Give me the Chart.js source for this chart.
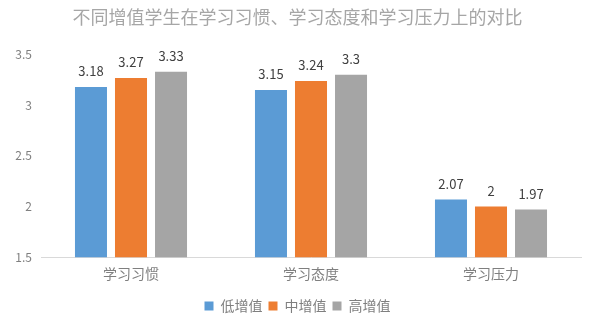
<!DOCTYPE html>
<html>
<head>
<meta charset="utf-8">
<script src="https://cdn.jsdelivr.net/npm/chart.js@4/dist/chart.umd.min.js"></script>
<style>
  html, body { margin: 0; padding: 0; background: #fff; }
  #wrap { width: 600px; height: 333px; position: relative; }
</style>
</head>
<body>
<div id="wrap"><canvas id="c"></canvas></div>
<script>
const titleText = '不同增值学生在学习习惯、学习态度和学习压力上的对比';
const categories = ['学习习惯', '学习态度', '学习压力'];
const seriesNames = ['低增值', '中增值', '高增值'];
const lowValues = [3.18, 3.15, 2.07];
const midValues = [3.27, 3.24, 2];
const highValues = [3.33, 3.3, 1.97];
const colors = ['#5B9BD5', '#ED7D31', '#A5A5A5'];

const cjk = '"Noto Sans CJK SC", "Noto Sans", sans-serif';

// draws the value above each bar
const valueLabels = {
  id: 'valueLabels',
  afterDatasetsDraw(chart) {
    const ctx = chart.ctx;
    ctx.save();
    ctx.font = '13px ' + cjk;
    ctx.fillStyle = '#404040';
    ctx.textAlign = 'center';
    ctx.textBaseline = 'bottom';
    chart.data.datasets.forEach((ds, i) => {
      chart.getDatasetMeta(i).data.forEach((bar, j) => {
        ctx.fillText(String(ds.data[j]), bar.x, bar.y - 9);
      });
    });
    ctx.restore();
  }
};

new Chart(document.getElementById('c'), {
  type: 'bar',
  data: {
    labels: categories,
    datasets: [
      { label: seriesNames[0], data: lowValues, backgroundColor: colors[0] },
      { label: seriesNames[1], data: midValues, backgroundColor: colors[1] },
      { label: seriesNames[2], data: highValues, backgroundColor: colors[2] }
    ]
  },
  options: {
    responsive: true,
    maintainAspectRatio: false,
    animation: false,
    categoryPercentage: 0.667,
    barPercentage: 0.8,
    layout: { padding: { left: 14, right: 19, top: 0, bottom: 10 } },
    plugins: {
      title: {
        display: true,
        text: titleText,
        color: '#a6a6a6',
        font: { family: cjk, size: 18, weight: 'normal' },
        padding: { top: 6, bottom: 27 }
      },
      legend: {
        position: 'bottom',
        labels: {
          color: '#7f7f7f',
          font: { family: cjk, size: 14 },
          boxWidth: 9,
          boxHeight: 9,
          padding: 6
        }
      },
      tooltip: { enabled: false }
    },
    scales: {
      x: {
        grid: { display: false, drawTicks: false },
        border: { color: '#d9d9d9' },
        ticks: { color: '#7f7f7f', font: { family: cjk, size: 14 }, padding: 8 },
        afterFit(scale) { scale.height += 3; }
      },
      y: {
        min: 1.5,
        max: 3.5,
        grid: { display: false, drawTicks: false },
        border: { display: false },
        ticks: {
          stepSize: 0.5,
          color: '#7f7f7f',
          font: { family: cjk, size: 12 },
          padding: 9,
          callback: v => String(v)
        },
        afterFit(scale) { scale.width = 27; }
      }
    }
  },
  plugins: [valueLabels]
});
</script>
</body>
</html>
